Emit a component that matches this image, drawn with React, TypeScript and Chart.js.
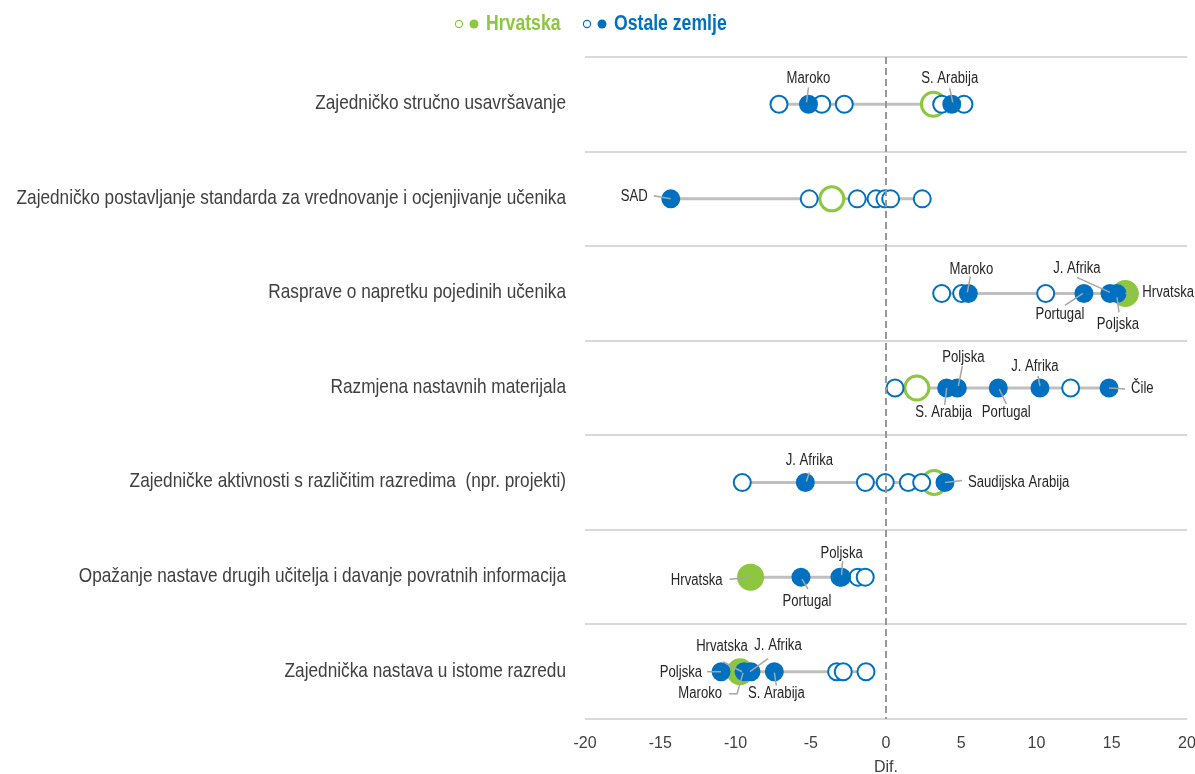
import React, { useEffect, useRef } from 'react';
import { Chart, registerables } from 'chart.js';

Chart.register(...registerables);

const rowLabels = [
  'Zajedničko stručno usavršavanje',
  'Zajedničko postavljanje standarda za vrednovanje i ocjenjivanje učenika',
  'Rasprave o napretku pojedinih učenika',
  'Razmjena nastavnih materijala',
  'Zajedničke aktivnosti s različitim razredima  (npr. projekti)',
  'Opažanje nastave drugih učitelja i davanje povratnih informacija',
  'Zajednička nastava u istome razredu',
];

const xMin = -20;
const xMax = 20;
const xStep = 5;
const xTitle = 'Dif.';

const legendLabels = ['Hrvatska', 'Ostale zemlje'];

// Croatia: difference per row, and whether it is significant (filled)
const croatiaValues = [3.15, -3.6, 15.9, 2.05, 3.2, -9.0, -9.7];
const croatiaSignificant = [false, false, true, false, false, true, true];

// Other countries, significant (filled) with names
const othersSignificant: [string, number][][] = [
  [['Maroko', -5.15], ['S. Arabija', 4.37]],
  [['SAD', -14.3]],
  [['Maroko', 5.47], ['Portugal', 13.15], ['J. Afrika', 14.88], ['Poljska', 15.35]],
  [['S. Arabija', 4.03], ['Poljska', 4.74], ['Portugal', 7.46], ['J. Afrika', 10.23], ['Čile', 14.82]],
  [['J. Afrika', -5.36], ['Saudijska Arabija', 3.92]],
  [['Portugal', -5.65], ['Poljska', -2.95]],
  [['Poljska', -10.96], ['Maroko', -9.43], ['J. Afrika', -8.97], ['S. Arabija', -7.42]],
];

// Other countries, not significant (open)
const othersNotSignificant: number[][] = [
  [-7.11, -4.27, -2.77, 3.7, 5.18],
  [-5.1, -1.91, -0.66, -0.07, 0.31, 2.41],
  [3.7, 5.03, 10.61],
  [0.6, 12.27],
  [-9.55, -1.37, -0.05, 1.48, 2.37],
  [-3.06, -1.87, -1.38],
  [-3.28, -2.84, -1.33],
];

// Label callouts (text offsets/leaders in px relative to the labelled point)
type Callout = {
  row: number;
  name: string;
  tx: number;
  ty: number;
  align: CanvasTextAlign;
  path: [number, number][];
};
const callouts: Callout[] = [
  { row: 0, name: 'Maroko', tx: 0, ty: -26, align: 'center', path: [[-2, -2], [0, -17]] },
  { row: 0, name: 'S. Arabija', tx: -2, ty: -26, align: 'center', path: [[1, -2], [-2, -16]] },
  { row: 1, name: 'SAD', tx: -23, ty: -2, align: 'right', path: [[0, 0], [-17, -3]] },
  { row: 2, name: 'Maroko', tx: 3, ty: -24, align: 'center', path: [[-1, -1], [2, -17]] },
  { row: 2, name: 'J. Afrika', tx: -33, ty: -25, align: 'center', path: [[0, -1], [-33, -16]] },
  { row: 2, name: 'Hrvatska', tx: 17, ty: -1, align: 'left', path: [[0, 0], [14, 0]] },
  { row: 2, name: 'Portugal', tx: -24, ty: 21, align: 'center', path: [[-1, 0], [-19, 12]] },
  { row: 2, name: 'Poljska', tx: 1, ty: 31, align: 'center', path: [[0, 4], [2, 19]] },
  { row: 3, name: 'Poljska', tx: 6, ty: -30, align: 'center', path: [[1, -2], [5, -22]] },
  { row: 3, name: 'J. Afrika', tx: -5, ty: -21, align: 'center', path: [[0, -2], [-2, -12]] },
  { row: 3, name: 'Čile', tx: 22, ty: 1, align: 'left', path: [[0, 0], [16, 1]] },
  { row: 3, name: 'S. Arabija', tx: -3, ty: 25, align: 'center', path: [[0, 0], [-2, 17]] },
  { row: 3, name: 'Portugal', tx: 8, ty: 25, align: 'center', path: [[1, 1], [8, 16]] },
  { row: 4, name: 'J. Afrika', tx: 4, ty: -22, align: 'center', path: [[1, -1], [4, -10]] },
  { row: 4, name: 'Saudijska Arabija', tx: 23, ty: 0, align: 'left', path: [[0, 0], [17, -2]] },
  { row: 5, name: 'Hrvatska', tx: -28, ty: 3, align: 'right', path: [[0, 0], [-21, 2]] },
  { row: 5, name: 'Poljska', tx: 0, ty: -24, align: 'center', path: [[0, -2], [1, -16]] },
  { row: 5, name: 'Portugal', tx: 6, ty: 24, align: 'center', path: [[1, 2], [7, 12]] },
  { row: 6, name: 'Poljska', tx: -19, ty: 1, align: 'right', path: [[0, 0], [-14, 0]] },
  { row: 6, name: 'Hrvatska', tx: -18, ty: -25, align: 'center', path: [[2, 0], [-17, -10]] },
  { row: 6, name: 'J. Afrika', tx: 27, ty: -26, align: 'center', path: [[-1, 0], [17, -13]] },
  { row: 6, name: 'Maroko', tx: -22, ty: 22, align: 'right', path: [[-1, 1], [-7, 22], [-15, 22]] },
  { row: 6, name: 'S. Arabija', tx: 2, ty: 22, align: 'center', path: [[0, 1], [2, 14]] },
];

const BLUE = '#0070C0';
const GREEN = '#8DC63F';
const TEXT = '#404040';
const FONT = '"Liberation Sans", Arial, sans-serif';
const NARROW = 0.82; // emulate a condensed face (Arial Narrow look)
const PAGE_W = 1195;
const PAGE_H = 774;
const CANVAS_W = 1202; // right-side tick padding added by the layout falls outside the page

function valueFor(row: number, name: string): number | undefined {
  if (name === 'Hrvatska') return croatiaValues[row];
  const f = othersSignificant[row].find((p) => p[0] === name);
  return f ? f[1] : undefined;
}

function narrowText(
  ctx: CanvasRenderingContext2D,
  text: string,
  x: number,
  y: number,
  align: CanvasTextAlign,
  font: string,
  color: string
) {
  ctx.save();
  ctx.translate(x, y);
  ctx.scale(NARROW, 1);
  ctx.font = font;
  ctx.fillStyle = color;
  ctx.textAlign = align;
  ctx.textBaseline = 'middle';
  ctx.fillText(text, 0, 0);
  ctx.restore();
}

export default function App() {
  const ref = useRef<HTMLCanvasElement | null>(null);

  useEffect(() => {
    if (!ref.current) return;

    const filledPts: any[] = [];
    const openPts: any[] = [];
    const hrFilled: any[] = [];
    const hrOpen: any[] = [];
    const rangeSets: any[] = [];

    rowLabels.forEach((lab, r) => {
      othersSignificant[r].forEach(([, v]) => filledPts.push({ x: v, y: lab }));
      othersNotSignificant[r].forEach((v) => openPts.push({ x: v, y: lab }));
      if (croatiaSignificant[r]) hrFilled.push({ x: croatiaValues[r], y: lab });
      else hrOpen.push({ x: croatiaValues[r], y: lab });
      const all = [
        ...othersSignificant[r].map((p) => p[1]),
        ...othersNotSignificant[r],
        croatiaValues[r],
      ];
      rangeSets.push({
        type: 'scatter',
        data: [
          { x: Math.min(...all), y: lab },
          { x: Math.max(...all), y: lab },
        ],
        showLine: true,
        borderColor: '#BFBFBF',
        borderWidth: 3,
        pointRadius: 0,
        pointHoverRadius: 0,
      });
    });

    const zeroLine = {
      id: 'zeroLine',
      afterDatasetsDraw(chart: any) {
        const { ctx, chartArea, scales } = chart;
        const x = Math.round(scales.x.getPixelForValue(0));
        ctx.save();
        ctx.strokeStyle = '#999999';
        ctx.lineWidth = 2;
        ctx.setLineDash([7, 4]);
        ctx.beginPath();
        ctx.moveTo(x, chartArea.top);
        ctx.lineTo(x, chartArea.bottom);
        ctx.stroke();
        ctx.restore();
      },
    };

    const rowLabelPlugin = {
      id: 'rowLabels',
      afterDraw(chart: any) {
        const { ctx, chartArea, scales } = chart;
        rowLabels.forEach((lab, i) => {
          const y = scales.y.getPixelForValue(i);
          narrowText(ctx, lab, chartArea.left - 19, y - 1, 'right', `21px ${FONT}`, TEXT);
        });
      },
    };

    const calloutPlugin = {
      id: 'callouts',
      afterDatasetsDraw(chart: any) {
        const { ctx, scales } = chart;
        callouts.forEach((c) => {
          const v = valueFor(c.row, c.name);
          if (v === undefined) return;
          const px = scales.x.getPixelForValue(v);
          const py = scales.y.getPixelForValue(c.row);
          ctx.save();
          ctx.strokeStyle = '#A6A6A6';
          ctx.lineWidth = 1.5;
          ctx.setLineDash([]);
          ctx.beginPath();
          c.path.forEach(([dx, dy], i) => {
            if (i === 0) ctx.moveTo(px + dx, py + dy);
            else ctx.lineTo(px + dx, py + dy);
          });
          ctx.stroke();
          ctx.restore();
          narrowText(ctx, c.name, px + c.tx, py + c.ty, c.align, `16px ${FONT}`, '#262626');
        });
      },
    };

    const legendPlugin = {
      id: 'customLegend',
      afterDraw(chart: any) {
        const { ctx } = chart;
        const items = [
          { color: GREEN, x: 459, label: legendLabels[0] },
          { color: BLUE, x: 587, label: legendLabels[1] },
        ];
        items.forEach((it) => {
          const y = 24;
          ctx.save();
          ctx.strokeStyle = it.color;
          ctx.lineWidth = 1.2;
          ctx.fillStyle = '#ffffff';
          ctx.beginPath();
          ctx.arc(it.x, y, 3.6, 0, Math.PI * 2);
          ctx.fill();
          ctx.stroke();
          ctx.fillStyle = it.color;
          ctx.beginPath();
          ctx.arc(it.x + 15, y, 4.5, 0, Math.PI * 2);
          ctx.fill();
          ctx.restore();
          narrowText(ctx, it.label, it.x + 27, y, 'left', `bold 21.5px ${FONT}`, it.color);
        });
      },
    };

    const chart = new Chart(ref.current, {
      type: 'scatter',
      data: {
        datasets: [
          {
            data: filledPts,
            backgroundColor: BLUE,
            borderColor: BLUE,
            borderWidth: 2,
            pointRadius: 8.5,
            pointHoverRadius: 8.5,
          },
          {
            data: openPts,
            backgroundColor: '#ffffff',
            borderColor: BLUE,
            borderWidth: 2,
            pointRadius: 8.5,
            pointHoverRadius: 8.5,
          },
          {
            data: hrFilled,
            backgroundColor: GREEN,
            borderColor: GREEN,
            borderWidth: 3,
            pointRadius: 12,
            pointHoverRadius: 12,
          },
          {
            data: hrOpen,
            backgroundColor: '#ffffff',
            borderColor: GREEN,
            borderWidth: 3,
            pointRadius: 12,
            pointHoverRadius: 12,
          },
          ...rangeSets,
        ],
      },
      options: {
        responsive: false,
        animation: false,
        layout: { padding: { top: 57, right: 1, left: 0, bottom: 0 } },
        plugins: {
          legend: { display: false },
          tooltip: { enabled: false },
        },
        events: [],
        scales: {
          x: {
            type: 'linear',
            min: xMin,
            max: xMax,
            afterFit: (s: any) => {
              s.height = 55;
              s.paddingLeft = 0;
              s.paddingRight = 0;
            },
            ticks: {
              stepSize: xStep,
              color: TEXT,
              font: { family: FONT, size: 16 },
              padding: 15,
            },
            grid: { display: false, drawTicks: false },
            border: { display: false },
            title: {
              display: true,
              text: xTitle,
              color: TEXT,
              font: { family: FONT, size: 16 },
              padding: { top: 0, bottom: -3 },
            },
          },
          y: {
            type: 'category',
            labels: rowLabels,
            offset: true,
            afterFit: (s: any) => {
              s.width = 585;
              s.paddingTop = 0;
              s.paddingBottom = 0;
            },
            ticks: {
              display: false,
              autoSkip: false,
            },
            grid: {
              offset: true,
              color: '#D9D9D9',
              lineWidth: 2,
              drawTicks: false,
            },
            border: { display: false },
          },
        },
      } as any,
      plugins: [zeroLine, calloutPlugin, rowLabelPlugin, legendPlugin],
    });

    return () => chart.destroy();
  }, []);

  return (
    <div
      style={{
        position: 'absolute',
        left: 0,
        top: 0,
        width: PAGE_W,
        height: PAGE_H,
        overflow: 'hidden',
        background: '#fff',
      }}
    >
      <canvas ref={ref} width={CANVAS_W} height={PAGE_H} style={{ display: 'block' }} />
    </div>
  );
}
